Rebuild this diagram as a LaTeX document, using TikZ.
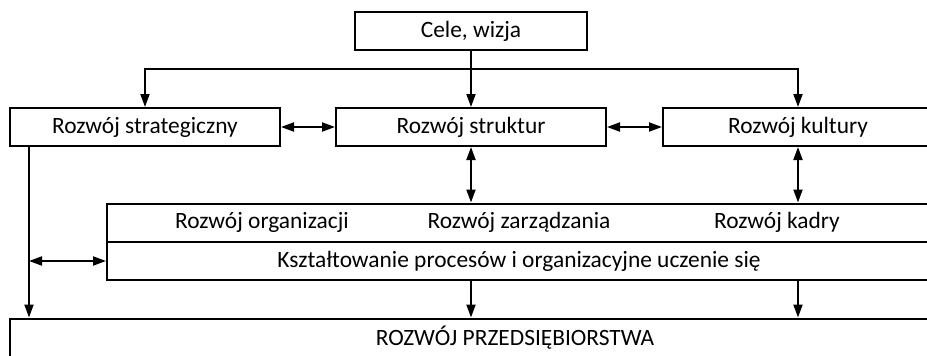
\documentclass[tikz,border=0pt]{standalone}
\usepackage{fontspec}
\setmainfont{Carlito}
\usetikzlibrary{arrows.meta}

\begin{document}
\begin{tikzpicture}[x=0.5pt, y=-0.5pt, line width=1pt,
    font=\fontsize{11.7}{14}\selectfont,
    box/.style   = {draw, inner sep=0pt, minimum height=19pt},
    label/.style = {inner sep=0pt},
    arr/.style   = {-{Triangle[length=6.5pt,width=4.5pt]}},
    dbl/.style   = {{Triangle[length=6.5pt,width=4.5pt]}-{Triangle[length=6.5pt,width=4.5pt]}},
  ]
  \useasboundingbox (0,0) rectangle (927,355);
  % top goal
  \node[box, minimum width=116pt] (cele) at (471,31) {Cele, wizja};
  % three kinds of development
  \node[box, minimum width=135pt] (strat)  at (145,127) {Rozwój strategiczny};
  \node[box, minimum width=135pt] (strukt) at (471,127) {Rozwój struktur};
  \node[box, minimum width=135pt] (kult)   at (798,127) {Rozwój kultury};
  % system block
  \node[box, minimum width=416pt] (sys)  at (523,222.5) {};
  \node[box, minimum width=416pt] (proc) at (523,261) {};
  \node[label] (ksz)  at (519,261) {Kształtowanie procesów i organizacyjne uczenie się};
  \node[label] (org)  at (262,222.5) {Rozwój organizacji};
  \node[label] (zarz) at (519,222.5) {Rozwój zarządzania};
  \node[label] (kadr) at (777,222.5) {Rozwój kadry};
  % result
  \node[box, minimum width=505pt] (firma) at (515,337.5) {ROZWÓJ PRZEDSIĘBIORSTWA};

  \coordinate (fork) at (471,69);
  \draw[arr] (cele) -- (strukt);
  \draw[arr] (fork) -| (strat);
  \draw[arr] (fork) -| (kult);
  \draw[dbl] (strat) -- (strukt);
  \draw[dbl] (strukt) -- (kult);
  \draw[dbl] (strukt.south) -- (strukt.south |- sys.north);
  \draw[dbl] (kult.south) -- (kult.south |- sys.north);
  \draw[arr] ([xshift=10pt]strat.south west) coordinate (side) -- (side |- firma.north);
  \draw[dbl] (side |- proc.west) -- (proc.west);
  \draw[arr] (proc.south -| strukt) -- (firma.north -| strukt);
  \draw[arr] (proc.south -| kult) -- (firma.north -| kult);
\end{tikzpicture}
\end{document}
